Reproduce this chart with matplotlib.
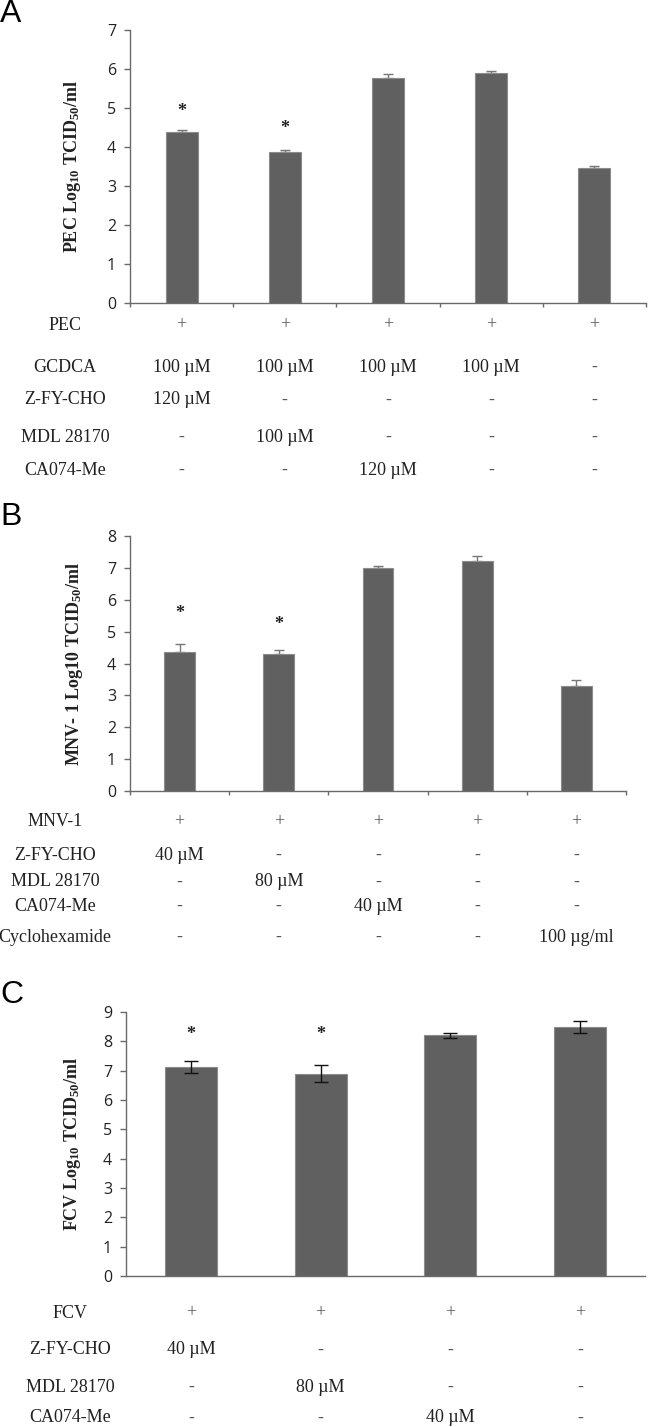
import numpy as np
import matplotlib
matplotlib.use('Agg')
import matplotlib.pyplot as plt
import matplotlib.transforms as mtrans

W, H = 648, 1427

# panel A: PEC
a_vals = [4.38, 3.87, 5.78, 5.89, 3.45]
a_err = [0.06, 0.06, 0.09, 0.05, 0.07]
a_stars = [4.91, 4.48, None, None, None]
a_rows = ['PEC', 'GCDCA', 'Z-FY-CHO', 'MDL 28170', 'CA074-Me']
a_table = [['+', '+', '+', '+', '+'],
           ['100 µM', '100 µM', '100 µM', '100 µM', '-'],
           ['120 µM', '-', '-', '-', '-'],
           ['-', '100 µM', '-', '-', '-'],
           ['-', '-', '120 µM', '-', '-']]

# panel B: MNV-1
b_vals = [4.37, 4.29, 7.01, 7.20, 3.30]
b_err = [0.23, 0.13, 0.06, 0.17, 0.17]
b_stars = [5.58, 5.21, None, None, None]
b_rows = ['MNV-1', 'Z-FY-CHO', 'MDL 28170', 'CA074-Me', 'Cyclohexamide']
b_table = [['+', '+', '+', '+', '+'],
           ['40 µM', '-', '-', '-', '-'],
           ['-', '80 µM', '-', '-', '-'],
           ['-', '-', '40 µM', '-', '-'],
           ['-', '-', '-', '-', '100 µg/ml']]

# panel C: FCV
c_vals = [7.12, 6.90, 8.20, 8.50]
c_err = [0.21, 0.30, 0.09, 0.21]
c_stars = [8.23, 8.23, None, None]
c_rows = ['FCV', 'Z-FY-CHO', 'MDL 28170', 'CA074-Me']
c_table = [['+', '+', '+', '+'],
           ['40 µM', '-', '-', '-'],
           ['-', '80 µM', '-', '-'],
           ['-', '-', '40 µM', '-']]

plt.rcParams['mathtext.fontset'] = 'custom'
plt.rcParams['mathtext.rm'] = 'Liberation Serif:bold'
plt.rcParams['mathtext.it'] = 'Liberation Serif:bold'
plt.rcParams['mathtext.bf'] = 'Liberation Serif:bold'

fig = plt.figure(figsize=(W / 100, H / 100), dpi=100)

BAR = '#606060'
EDGE = '#8c8c8c'
SPINE = '#6a6a6a'
TXT = '#222222'


def make_panel(l, r, t, b, vals, err, stars, ymax, ylabel, ylab_x, letter, letter_y,
               rows, table, row_y, label_x, barw, sym_err, xticks):
    ax = fig.add_axes([l / W, 1 - b / H, (r - l) / W, (b - t) / H])
    n = len(vals)
    x = np.arange(n)
    ax.bar(x, vals, width=barw, color=BAR, edgecolor=EDGE, linewidth=0.8, zorder=2)
    if sym_err:
        ax.errorbar(x, vals, yerr=err, fmt='none', ecolor='#111111',
                    elinewidth=1, capsize=5, capthick=1, zorder=3)
    else:
        ax.errorbar(x, vals, yerr=[np.zeros(n), err], fmt='none', ecolor='#777777',
                    elinewidth=1, capsize=3.5, capthick=1, zorder=1)
    for xi, s in zip(x, stars):
        if s is not None:
            ax.text(xi, s, '*', ha='center', va='center', fontsize=13,
                    fontweight='bold', family='Liberation Serif', color=TXT)
    ax.set_xlim(-0.5, n - 0.5)
    ax.set_ylim(0, ymax)
    ax.set_yticks(range(ymax + 1))
    for side in ['top', 'right']:
        ax.spines[side].set_visible(False)
    for side in ['left', 'bottom']:
        ax.spines[side].set_color(SPINE)
        ax.spines[side].set_linewidth(1)
    ax.tick_params(axis='y', direction='out', length=4, width=1, color=SPINE,
                   pad=6, labelsize=11.5, labelcolor=TXT)
    for lab in ax.get_yticklabels():
        lab.set_family('Open Sans')
    if xticks:
        ax.set_xticks(np.arange(n + 1) - 0.5)
        ax.tick_params(axis='x', direction='out', length=3, width=1, color=SPINE,
                       labelbottom=False)
    else:
        ax.set_xticks([])
    ax.set_ylabel(ylabel, fontsize=13, fontweight='bold', family='Liberation Serif',
                  color=TXT)
    ax.yaxis.set_label_coords((ylab_x - l) / (r - l), 0.5)
    fig.text(0, 1 - letter_y / H, letter, fontsize=23, family='Liberation Sans',
             ha='left', va='center', color='black')
    trans = mtrans.blended_transform_factory(ax.transData, fig.transFigure)
    for name, cells, yy in zip(rows, table, row_y):
        fig.text(label_x / W, 1 - yy / H, name, ha='center', va='center',
                 fontsize=13, family='Liberation Serif', color=TXT)
        for xi, c in zip(x, cells):
            col = '#555555' if c in ('+', '-') else TXT
            ax.text(xi, 1 - yy / H, c, transform=trans, ha='center', va='center',
                    fontsize=13, family='Liberation Serif', color=col)
    return ax


make_panel(130, 646, 30, 303, a_vals, a_err, a_stars, 7,
           'PEC Log$_{10}$ TCID$_{50}$/ml', 83, 'A', 14,
           a_rows, a_table, [325, 367, 400, 437, 470], 65, 0.31, False, True)
make_panel(130, 626, 536, 791, b_vals, b_err, b_stars, 8,
           'MNV- 1 Log10 TCID$_{50}$/ml', 85, 'B', 517,
           b_rows, b_table, [822, 855, 882, 906, 937], 55, 0.31, False, True)
make_panel(126, 645, 1012, 1276, c_vals, c_err, c_stars, 9,
           'FCV Log$_{10}$ TCID$_{50}$/ml', 83, 'C', 995,
           c_rows, c_table, [1313, 1350, 1387, 1418], 70, 0.40, True, False)

fig.savefig('out.png', dpi=100)
